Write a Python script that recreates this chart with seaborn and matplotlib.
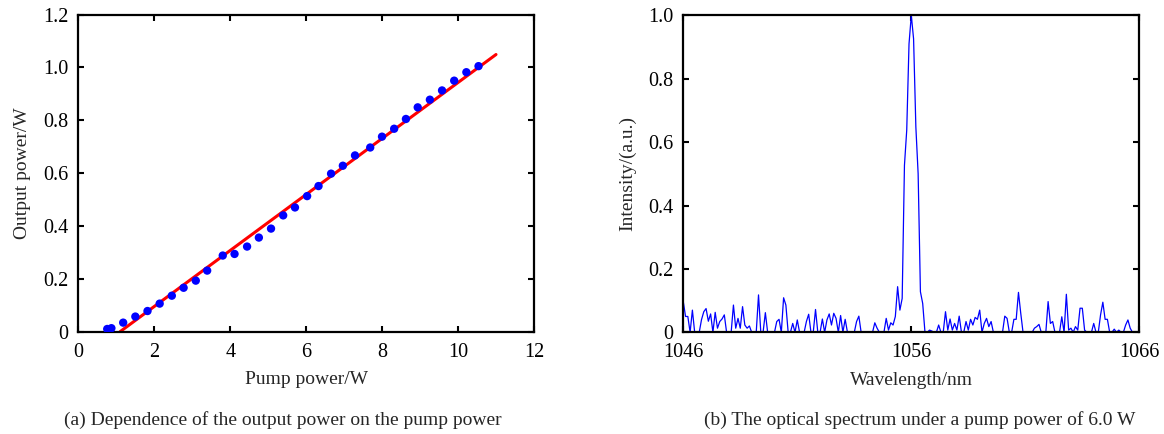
import matplotlib
matplotlib.use("Agg")
import matplotlib.pyplot as plt
import numpy as np
import pandas as pd
import seaborn as sns

# (a) output power vs pump power
pump_power = [0.76, 0.87, 1.18, 1.50, 1.82, 2.14, 2.46, 2.77, 3.09, 3.39,
              3.80, 4.11, 4.44, 4.75, 5.07, 5.39, 5.70, 6.02, 6.32, 6.65,
              6.96, 7.28, 7.68, 7.99, 8.31, 8.62, 8.93, 9.25, 9.57, 9.89,
              10.21, 10.53]
output_power = [0.010, 0.013, 0.034, 0.057, 0.078, 0.106, 0.136, 0.166, 0.193, 0.231,
                0.288, 0.294, 0.322, 0.356, 0.390, 0.440, 0.470, 0.513, 0.551, 0.598,
                0.628, 0.667, 0.697, 0.738, 0.768, 0.805, 0.849, 0.878, 0.913, 0.950,
                0.982, 1.005]
fit_x = [1.10, 10.99]
fit_y = [0.0, 1.049]

# (b) spectrum, 0.1 nm steps from 1046 to 1066 nm
wl_start, wl_step = 1046.0, 0.1
intensity = [
    0.097, 0.05, 0.05, 0, 0.07, 0, 0, 0, 0.04, 0.065,
    0.075, 0.035, 0.058, 0, 0.063, 0.013, 0.034, 0.042, 0.055, 0,
    0, 0, 0.086, 0.013, 0.044, 0.013, 0.081, 0.023, 0.013, 0.02,
    0, 0, 0, 0.118, 0, 0, 0.062, 0, 0, 0,
    0, 0.034, 0.041, 0, 0.109, 0.086, 0, 0, 0.028, 0,
    0.039, 0, 0, 0, 0.034, 0.057, 0, 0, 0.072, 0,
    0, 0.042, 0, 0.039, 0.058, 0.023, 0.06, 0.044, 0, 0.053,
    0, 0.041, 0, 0, 0, 0, 0.034, 0.051, 0, 0,
    0, 0, 0, 0, 0.03, 0.013, 0, 0, 0, 0.044,
    0.007, 0.03, 0.023, 0.05, 0.144, 0.07, 0.107, 0.527, 0.638, 0.91,
    1.0, 0.926, 0.648, 0.50, 0.128, 0.091, 0, 0, 0.007, 0.004,
    0, 0, 0.023, 0, 0, 0.065, 0.007, 0.042, 0.007, 0.028,
    0.007, 0.051, 0, 0, 0.034, 0.007, 0.041, 0.023, 0.047, 0.041,
    0.07, 0, 0.028, 0.044, 0.018, 0.034, 0, 0, 0, 0,
    0, 0.051, 0.044, 0, 0, 0.041, 0.041, 0.126, 0.06, 0,
    0, 0, 0, 0, 0.013, 0.018, 0.025, 0, 0, 0,
    0.097, 0.028, 0.034, 0, 0, 0, 0.049, 0, 0.12, 0.007,
    0.013, 0, 0.018, 0.007, 0.076, 0.076, 0.007, 0, 0, 0,
    0.028, 0, 0, 0.055, 0.095, 0.041, 0.041, 0, 0, 0.01,
    0, 0.007, 0, 0, 0.023, 0.039, 0.013, 0, 0, 0,
    0,
]
wavelength = [round(wl_start + i * wl_step, 1) for i in range(len(intensity))]

sns.set_style("ticks")
plt.rcParams['font.family'] = ['Liberation Serif', 'DejaVu Serif']

fig = plt.figure(figsize=(11.64, 4.34), dpi=100)
ax1 = fig.add_axes([0.0673, 0.2359, 0.3918, 0.7304])
ax2 = fig.add_axes([0.5870, 0.2343, 0.3918, 0.7304])

fs = 14
tfs = 14.5

# panel (a)
pts = pd.DataFrame({'pump': pump_power, 'out': output_power})
fit = pd.DataFrame({'pump': fit_x, 'out': fit_y})
sns.scatterplot(data=pts, x='pump', y='out', ax=ax1, color='#0000ff',
                s=36, edgecolor='none', zorder=3)
sns.lineplot(data=fit, x='pump', y='out', ax=ax1, color='#ff0000',
             linewidth=2.2, zorder=2)
ax1.set_xlim(0, 12)
ax1.set_ylim(0, 1.2)
ax1.set_xticks(range(0, 13, 2))
ax1.set_yticks([0, 0.2, 0.4, 0.6, 0.8, 1.0, 1.2])
ax1.set_yticklabels(['0', '0.2', '0.4', '0.6', '0.8', '1.0', '1.2'])
ax1.set_xlabel('Pump power/W', fontsize=fs, labelpad=7)
ax1.set_ylabel('Output power/W', fontsize=fs, labelpad=9)

# panel (b)
spec = pd.DataFrame({'wl': wavelength, 'I': intensity})
sns.lineplot(data=spec, x='wl', y='I', ax=ax2, color='#0000ff', linewidth=0.9)
ax2.set_xlim(1046, 1066)
ax2.set_ylim(0, 1.0)
ax2.set_xticks([1046, 1056, 1066])
ax2.set_yticks([0, 0.2, 0.4, 0.6, 0.8, 1.0])
ax2.set_yticklabels(['0', '0.2', '0.4', '0.6', '0.8', '1.0'])
ax2.set_xlabel('Wavelength/nm', fontsize=fs, labelpad=7)
ax2.set_ylabel('Intensity/(a.u.)', fontsize=fs, labelpad=9)

for ax in (ax1, ax2):
    for sp in ax.spines.values():
        sp.set_visible(True)
        sp.set_linewidth(1.6)
        sp.set_color('black')
    ax.tick_params(direction='in', length=4, width=1.5, top=True, right=True,
                   labelsize=tfs, colors='black')
    ax.tick_params(axis='x', pad=8)
    ax.tick_params(axis='y', pad=7)

fig.text(0.243, 0.032, '(a) Dependence of the output power on the pump power',
         fontsize=fs, ha='center', va='center')
fig.text(0.790, 0.032, '(b) The optical spectrum under a pump power of 6.0 W',
         fontsize=fs, ha='center', va='center')

fig.savefig('out.png', dpi=100)
